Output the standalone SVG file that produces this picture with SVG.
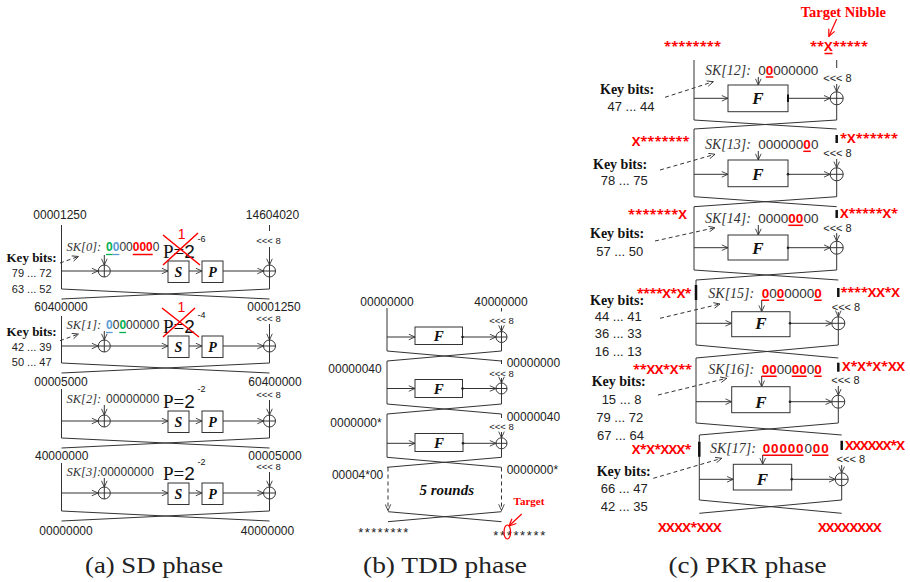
<svg xmlns="http://www.w3.org/2000/svg" width="910" height="582" viewBox="0 0 910 582">
<defs>
<marker id="ah" viewBox="0 0 8 8" refX="7.6" refY="4" markerWidth="7" markerHeight="7" markerUnits="userSpaceOnUse" orient="auto"><path d="M0.5,0.8 L7.6,4 L0.5,7.2" fill="none" stroke="#333" stroke-width="1"/></marker>
<marker id="ahr" viewBox="0 0 8 8" refX="7.6" refY="4" markerWidth="8" markerHeight="8" markerUnits="userSpaceOnUse" orient="auto"><path d="M0.5,0.8 L7.6,4 L0.5,7.2" fill="none" stroke="#f00" stroke-width="1.2"/></marker>
<g id="xa"><circle r="6" fill="#fff" stroke="#333"/><path d="M-6,0H6M0,-6V6" stroke="#333" fill="none"/></g>
<g id="xb"><circle r="5.5" fill="#fff" stroke="#333"/><path d="M-5.5,0H5.5M0,-5.5V5.5" stroke="#333" fill="none"/></g>
<g id="xc"><circle r="6.5" fill="#fff" stroke="#333"/><path d="M-6.5,0H6.5M0,-6.5V6.5" stroke="#333" fill="none"/></g>
</defs>
<style>
.ln{fill:none;stroke:#333;stroke-width:1}
.ar{marker-end:url(#ah)}
.ds{stroke-dasharray:4 3}
.tk{stroke:#111;stroke-width:2.5;fill:none}
.bx{fill:#fff;stroke:#333;stroke-width:1}
.rl{fill:none;stroke:#f00;stroke-width:1.5}
.hx{font-family:"Liberation Sans",Arial,sans-serif;font-size:12px;fill:#222}
.rt{font-family:"Liberation Sans",Arial,sans-serif;font-size:9.5px;fill:#222;text-anchor:middle}
.rc{font-family:"Liberation Sans",Arial,sans-serif;font-size:11px;fill:#222;text-anchor:middle}
.kb{font-family:"Liberation Serif","Times New Roman",serif;font-weight:bold;font-size:13px;fill:#111}
.kbc{font-family:"Liberation Serif","Times New Roman",serif;font-weight:bold;font-size:14px;fill:#111}
.nm{font-family:"Liberation Sans",Arial,sans-serif;font-size:11px;fill:#222;text-anchor:middle}
.nmc{font-family:"Liberation Sans",Arial,sans-serif;font-size:13px;fill:#222;text-anchor:middle}
.sk{font-family:"Liberation Serif","Times New Roman",serif;font-style:italic;font-size:12.5px;fill:#333}
.skc{font-family:"Liberation Serif","Times New Roman",serif;font-style:italic;font-size:14px;fill:#333}
.dg{font-family:"Liberation Sans",Arial,sans-serif;font-size:12px;fill:#333}
.dgc{font-family:"Liberation Sans",Arial,sans-serif;font-size:13.5px;fill:#333}
.r{fill:#f00;font-weight:bold}
.g{fill:#00b050;font-weight:bold}
.b{fill:#5b9bd5;font-weight:bold}
.pe{font-family:"Liberation Serif","Times New Roman",serif;font-size:19px;fill:#111}
.sup{font-family:"Liberation Sans",Arial,sans-serif;font-size:9px;fill:#111}
.one{font-family:"Liberation Sans",Arial,sans-serif;font-size:14px;fill:#f00;text-anchor:middle}
.bi{font-family:"Liberation Serif","Times New Roman",serif;font-weight:bold;font-style:italic;fill:#111;text-anchor:middle}
.red{font-family:"Open Sans","Liberation Sans",sans-serif;font-weight:bold;font-size:13px;fill:#f00}
.ast{font-family:"Liberation Sans",Arial,sans-serif;font-size:13px;fill:#222}
.tg{font-family:"Liberation Serif","Times New Roman",serif;font-weight:bold;fill:#f00;text-anchor:middle}
.cap{font-family:"Liberation Serif","Times New Roman",serif;font-size:24px;fill:#222;text-anchor:middle}
</style>
<rect width="910" height="582" fill="#fff"/>

<!-- ================= connectors ================= -->
<g id="connectors">
<!-- panel a -->
<path class="ln" d="M61.5,225V289M269.5,277V289M269.5,225V231M61.5,289L269.5,299M269.5,289L61.5,299"/>
<path class="ln ar" d="M61.5,271H98"/><path class="ln ar" d="M104.3,255V265"/><path class="ln ar" d="M110.3,271H168"/><path class="ln ar" d="M189,271H202"/><path class="ln ar" d="M223,271H263.5"/><path class="ln ar" d="M269.5,247V265"/>
<path class="ln" d="M61.5,316V363M269.5,352V363M61.5,363L269.5,373M269.5,363L61.5,373"/>
<path class="ln ar" d="M61.5,346H98"/><path class="ln ar" d="M104.3,331V340"/><path class="ln ar" d="M110.3,346H168"/><path class="ln ar" d="M189,346H202"/><path class="ln ar" d="M223,346H263.5"/><path class="ln ar" d="M269.5,324V340"/>
<path class="ln" d="M61.5,389V438M269.5,427V438M61.5,438L269.5,448M269.5,438L61.5,448"/>
<path class="ln ar" d="M61.5,421H98"/><path class="ln ar" d="M104.3,405V415"/><path class="ln ar" d="M110.3,421H168"/><path class="ln ar" d="M189,421H202"/><path class="ln ar" d="M223,421H263.5"/><path class="ln ar" d="M269.5,400V415"/>
<path class="ln" d="M61.5,463V511M269.5,499V511M61.5,511L269.5,521M269.5,511L61.5,521"/>
<path class="ln ar" d="M61.5,493H98"/><path class="ln ar" d="M104.3,478V487"/><path class="ln ar" d="M110.3,493H168"/><path class="ln ar" d="M189,493H202"/><path class="ln ar" d="M223,493H263.5"/><path class="ln ar" d="M269.5,472V487"/>
<path class="ln ds ar" d="M60,263L78.5,256.5"/><path class="ln ds ar" d="M60,340.7L78.5,334"/>
<!-- panel b -->
<path class="ln" d="M387,308V351M501.5,342.5V351M501.5,308V311.5M387,351L501.5,361M501.5,351L387,361"/>
<path class="ln ar" d="M387,337H415"/><path class="ln ar" d="M462.5,337H496"/><path class="ln ar" d="M501.5,325.5V331.5"/>
<path class="ln" d="M387,361V404M501.5,394V404M501.5,360V364M387,404L501.5,414M501.5,404L387,414"/>
<path class="ln ar" d="M387,388.5H415"/><path class="ln ar" d="M462.5,388.5H496"/><path class="ln ar" d="M501.5,378V383"/>
<path class="ln" d="M387,414V457.3M501.5,448.8V457.3M501.5,414V418M387,457.3L501.5,467.3M501.5,457.3L387,467.3"/>
<path class="ln ar" d="M387,443.3H415"/><path class="ln ar" d="M463,443.3H496"/><path class="ln ar" d="M501.5,432V437.8"/>
<path class="ln ds ar" d="M388,467.5V510.5"/><path class="ln ds ar" d="M501.5,467.5V510.5"/>
<path class="ln" d="M388,511.7L501.5,521.7M501.5,511.7L388,521.7"/>
<!-- panel c -->
<path class="ln" d="M694,60V120M836.7,104.8V120M836.7,60V68M694,120L836.7,129M836.7,120L694,129"/>
<path class="ln ar" d="M694,98.3H728"/><path class="ln ar" d="M758.3,77V85"/><path class="ln ar" d="M788,98.3H830.2"/><path class="ln ar" d="M836.7,84V91.8"/>
<path class="ln" d="M694,129V196.7M836.7,180.8V196.7M694,196.7L836.7,206.7M836.7,196.7L694,206.7"/><path class="tk" d="M836.7,135V143"/>
<path class="ln ar" d="M694,174.3H728"/><path class="ln ar" d="M758.3,151V160"/><path class="ln ar" d="M788,174.3H830.2"/><path class="ln ar" d="M836.7,159V167.8"/>
<path class="ln" d="M694,206.7V270M836.7,254.2V270M694,270L838.3,280M836.7,270L696,280"/><path class="tk" d="M836.7,210V218"/>
<path class="ln ar" d="M694,247.7H728"/><path class="ln ar" d="M758.3,225V235"/><path class="ln ar" d="M788,247.7H830.2"/><path class="ln ar" d="M836.7,233V241.2"/>
<path class="ln" d="M696,280V345M838.3,329.8V345M696,345L838.3,358M838.3,345L696,358"/><path class="tk" d="M696,285V300M838.3,288V297"/>
<path class="ln ar" d="M696,323.3H731.7"/><path class="ln ar" d="M761.7,300V311.7"/><path class="ln ar" d="M790,323.3H831.8"/><path class="ln ar" d="M838.3,312V316.8"/>
<path class="ln" d="M696,358V423M838.3,408.2V423M696,423L841.7,435M838.3,423L699.3,435"/><path class="tk" d="M838.3,362.7V371.7"/>
<path class="ln ar" d="M696,401.7H731.7"/><path class="ln ar" d="M761.7,376V386.7"/><path class="ln ar" d="M790,401.7H831.8"/><path class="ln ar" d="M838.3,386V395.2"/>
<path class="ln" d="M699.3,435V500M841.7,485.8V500M699.3,500L841.7,513.3M841.7,500L699.3,513.3"/><path class="tk" d="M699.3,441.7V456.7M841.7,440.7V450"/>
<path class="ln ar" d="M699.3,479.3H733.3"/><path class="ln ar" d="M762.7,455V464.3"/><path class="ln ar" d="M791.7,479.3H835.2"/><path class="ln ar" d="M841.7,465V472.8"/>
<path class="ln ds ar" d="M665,97.3L713.3,81.7"/><path class="ln ds ar" d="M660,170L715,154.3"/><path class="ln ds ar" d="M655,241L715,227.7"/><path class="ln ds ar" d="M660,318.3L720,304"/><path class="ln ds ar" d="M658,395L726.7,378.3"/><path class="ln ds ar" d="M653.3,478.3L721.7,458.3"/>
</g>

<!-- ================= panel (a) ================= -->
<g id="a-round1">
<use href="#xa" x="104.3" y="271"/><use href="#xa" x="269.5" y="271"/>
<rect class="bx" x="168" y="261" width="21" height="21.5"/><text class="bi" x="178.5" y="276.5" font-size="14">S</text>
<rect class="bx" x="202" y="261" width="21" height="21.5"/><text class="bi" x="212.5" y="276.5" font-size="14">P</text>
<text class="sk" x="66.5" y="251">SK[0]:</text>
<text class="dg" x="106" y="251"><tspan class="g">0</tspan><tspan class="b">0</tspan>00<tspan class="r">000</tspan>0</text>
<path d="M106,254.5H112.7" stroke="#00b050" stroke-width="1.3"/><path d="M112.7,254.5H119.3" stroke="#5b9bd5" stroke-width="1.3"/><path class="rl" d="M132.7,254.5H152.7"/>
<text class="pe" x="163" y="258">P=<tspan font-family="Liberation Sans, Arial, sans-serif">2</tspan></text><text class="sup" x="197.5" y="242">-6</text>
<path class="rl" d="M163,235L200,265M198,233L163,265"/><text class="one" x="181.7" y="238.5">1</text>
<text class="rt" x="268.5" y="243.5">&lt;&lt;&lt; 8</text>
<text class="kb" x="6.5" y="261.5">Key bits:</text><text class="nm" x="31.7" y="277">79 ... 72</text><text class="nm" x="31.7" y="292.5">63 ... 52</text>
</g>
<g id="a-round2">
<use href="#xa" x="104.3" y="346"/><use href="#xa" x="269.5" y="346"/>
<rect class="bx" x="168" y="336" width="21" height="21.5"/><text class="bi" x="178.5" y="351.5" font-size="14">S</text>
<rect class="bx" x="202" y="336" width="21" height="21.5"/><text class="bi" x="212.5" y="351.5" font-size="14">P</text>
<text class="sk" x="66.5" y="329">SK[1]:</text>
<text class="dg" x="106" y="329"><tspan class="b">0</tspan>0<tspan class="g">0</tspan>00000</text>
<path d="M106,332.5H112.7" stroke="#5b9bd5" stroke-width="1.3"/><path d="M119.3,332.5H126" stroke="#00b050" stroke-width="1.3"/>
<text class="pe" x="163" y="333">P=<tspan font-family="Liberation Sans, Arial, sans-serif">2</tspan></text><text class="sup" x="197.5" y="318">-4</text>
<path class="rl" d="M162,308L199,337M195,308L163,337"/><text class="one" x="181.5" y="311.7">1</text>
<text class="rt" x="268.5" y="321.5">&lt;&lt;&lt; 8</text>
<text class="kb" x="6.5" y="336">Key bits:</text><text class="nm" x="31.7" y="351">42 ... 39</text><text class="nm" x="31.7" y="366">50 ... 47</text>
</g>
<g id="a-round3">
<use href="#xa" x="104.3" y="421"/><use href="#xa" x="269.5" y="421"/>
<rect class="bx" x="168" y="411" width="21" height="21.5"/><text class="bi" x="178.5" y="426.5" font-size="14">S</text>
<rect class="bx" x="202" y="411" width="21" height="21.5"/><text class="bi" x="212.5" y="426.5" font-size="14">P</text>
<text class="sk" x="66.5" y="402.5">SK[2]:</text><text class="dg" x="106" y="402.5">00000000</text>
<text class="pe" x="163" y="407.5">P=<tspan font-family="Liberation Sans, Arial, sans-serif">2</tspan></text><text class="sup" x="197.5" y="392">-2</text>
<text class="rt" x="268.5" y="398" font-size="9px">&lt;&lt;&lt; 8</text>
</g>
<g id="a-round4">
<use href="#xa" x="104.3" y="493"/><use href="#xa" x="269.5" y="493"/>
<rect class="bx" x="168" y="483" width="21" height="21.5"/><text class="bi" x="178.5" y="498.5" font-size="14">S</text>
<rect class="bx" x="202" y="483" width="21" height="21.5"/><text class="bi" x="212.5" y="498.5" font-size="14">P</text>
<text class="sk" x="66.5" y="476">SK[3]:</text><text class="dg" x="100.5" y="476">00000000</text>
<text class="pe" x="163" y="480">P=<tspan font-family="Liberation Sans, Arial, sans-serif">2</tspan></text><text class="sup" x="197.5" y="465">-2</text>
<text class="rt" x="268.5" y="470">&lt;&lt;&lt; 8</text>
</g>
<g id="a-labels" class="hx" text-anchor="middle">
<text x="60" y="218.5">00001250</text><text x="272.5" y="218.5">14604020</text>
<text x="61" y="311">60400000</text><text x="274" y="311">00001250</text>
<text x="61" y="385.5">00005000</text><text x="275" y="385.5">60400000</text>
<text x="61.7" y="459.5">40000000</text><text x="275" y="459.5">00005000</text>
<text x="66" y="534.5">00000000</text><text x="267.5" y="534.5">40000000</text>
</g>
<text id="cap-a" class="cap" x="154" y="572.5" textLength="138" lengthAdjust="spacingAndGlyphs">(a) SD phase</text>

<!-- ================= panel (b) ================= -->
<g id="b-round1">
<rect class="bx" x="415" y="327" width="47.5" height="17.5"/><text class="bi" x="438.7" y="341" font-size="15">F</text>
<circle cx="462.5" cy="337" r="1.3" fill="#222"/><use href="#xb" x="501.5" y="337"/>
<text class="rt" x="501.5" y="324">&lt;&lt;&lt; 8</text>
</g>
<g id="b-round2">
<rect class="bx" x="415" y="379.5" width="47.5" height="18"/><text class="bi" x="438.7" y="393.5" font-size="15">F</text>
<circle cx="462.5" cy="388.5" r="1.3" fill="#222"/><use href="#xb" x="501.5" y="388.5"/>
<text class="rt" x="501.5" y="376.5">&lt;&lt;&lt; 8</text>
</g>
<g id="b-round3">
<rect class="bx" x="415" y="433.5" width="48" height="18"/><text class="bi" x="439" y="448" font-size="15">F</text>
<circle cx="463" cy="443.3" r="1.3" fill="#222"/><use href="#xb" x="501.5" y="443.3"/>
<text class="rt" x="501.5" y="430">&lt;&lt;&lt; 8</text>
</g>
<g id="b-5rounds"><text class="bi" x="446.7" y="495" font-size="15">5 rounds</text></g>
<g id="b-labels" class="hx">
<text x="387" y="306" text-anchor="middle">00000000</text><text x="501" y="306" text-anchor="middle">40000000</text>
<text x="381.7" y="373" text-anchor="end">00000040</text><text x="506.7" y="367">00000000</text>
<text x="381.7" y="427" text-anchor="end">0000000*</text><text x="506.7" y="421">00000040</text>
<text x="383.3" y="479.3" text-anchor="end">00004*00</text><text x="506.7" y="474.3">0000000*</text>
</g>
<g id="b-output">
<text class="ast" x="358.3" y="537" textLength="50" lengthAdjust="spacing">********</text>
<text class="ast" x="493.3" y="539.5" textLength="52" lengthAdjust="spacing">********</text>
<ellipse cx="507.3" cy="532" rx="3.3" ry="7" fill="none" stroke="#f00" stroke-width="1.2"/>
<text class="tg" x="529" y="505" font-size="11">Target</text>
<path d="M521.7,514L509,526" fill="none" stroke="#f00" stroke-width="1.2" marker-end="url(#ahr)"/>
</g>
<text id="cap-b" class="cap" x="445" y="572.5" textLength="164" lengthAdjust="spacingAndGlyphs">(b) TDD phase</text>

<!-- ================= panel (c) ================= -->
<g id="c-target">
<text class="tg" x="843.3" y="16.5" font-size="14.5">Target Nibble</text>
<path d="M836.7,19L828.8,36.5" fill="none" stroke="#f00" stroke-width="1.2" marker-end="url(#ahr)"/>
</g>
<g id="c-round12">
<rect class="bx" x="728" y="85" width="60" height="26.7"/><text class="bi" x="758" y="104.3" font-size="17">F</text>
<path d="M788,94.5V102" stroke="#111" stroke-width="2"/><use href="#xc" x="836.7" y="98.3"/>
<text class="skc" x="705" y="74.5">SK[12]:</text><text class="dgc" x="758.3" y="74.5">0<tspan class="r">0</tspan>000000</text><path class="rl" d="M765.8,77H773.3"/>
<text class="rc" x="837.5" y="82.2">&lt;&lt;&lt; 8</text>
<text class="kbc" x="600" y="93.8">Key bits:</text><text class="nmc" x="631" y="111.4">47 ... 44</text>
<text class="red" x="664" y="51" textLength="57" lengthAdjust="spacing">********</text>
<text class="red" x="810" y="51" textLength="58" lengthAdjust="spacing">**X*****</text><path class="rl" d="M824.5,53.5H832.5"/>
</g>
<g id="c-round13">
<rect class="bx" x="728" y="160" width="60" height="26.7"/><text class="bi" x="758" y="180.3" font-size="17">F</text>
<circle cx="788" cy="174.3" r="1.3" fill="#222"/><use href="#xc" x="836.7" y="174.3"/>
<text class="skc" x="705" y="148.8">SK[13]:</text><text class="dgc" x="758.3" y="148.8">000000<tspan class="r">0</tspan>0</text><path class="rl" d="M803.3,151.3H810.8"/>
<text class="rc" x="837.5" y="157.2">&lt;&lt;&lt; 8</text>
<text class="kbc" x="593" y="168.8">Key bits:</text><text class="nmc" x="624.2" y="184.7">78 ... 75</text>
<text class="red" x="631.7" y="145.5" textLength="58" lengthAdjust="spacing">X*******</text>
<text class="red" x="840" y="142.8" textLength="58" lengthAdjust="spacing">*X******</text>
</g>
<g id="c-round14">
<rect class="bx" x="728" y="235" width="60" height="25"/><text class="bi" x="758" y="253.7" font-size="17">F</text>
<circle cx="788" cy="247.7" r="1.3" fill="#222"/><use href="#xc" x="836.7" y="247.7"/>
<text class="skc" x="705" y="222.8">SK[14]:</text><text class="dgc" x="758.3" y="222.8">0000<tspan class="r">00</tspan>00</text><path class="rl" d="M788.3,225.3H803.3"/>
<text class="rc" x="837.5" y="232">&lt;&lt;&lt; 8</text>
<text class="kbc" x="590" y="237.8">Key bits:</text><text class="nmc" x="619.8" y="255.7">57 ... 50</text>
<text class="red" x="628" y="218.8" textLength="59" lengthAdjust="spacing">*******X</text>
<text class="red" x="840" y="217.8" textLength="58" lengthAdjust="spacing">X*****X*</text>
</g>
<g id="c-round15">
<rect class="bx" x="731.7" y="311.7" width="58.3" height="25"/><text class="bi" x="760.8" y="329.3" font-size="17">F</text>
<circle cx="790" cy="323.3" r="1.3" fill="#222"/><use href="#xc" x="838.3" y="323.3"/>
<text class="skc" x="708.3" y="297.8">SK[15]:</text><text class="dgc" x="761.7" y="297.8"><tspan class="r">0</tspan>0<tspan class="r">0</tspan>0000<tspan class="r">0</tspan></text>
<path class="rl" d="M761.7,300.3H769.2M776.7,300.3H784.2M814.2,300.3H821.7"/>
<text class="rc" x="846" y="310.8" font-size="10.5px">&lt;&lt;&lt; 8</text>
<text class="kbc" x="590" y="304.5">Key bits:</text><text class="nmc" x="618.3" y="321.4">44 ... 41</text><text class="nmc" x="618.3" y="338">36 ... 33</text><text class="nmc" x="618.3" y="356.4">16 ... 13</text>
<text class="red" x="636.7" y="297.8" textLength="55" lengthAdjust="spacing">****X*X*</text>
<text class="red" x="840.5" y="296.5" textLength="59.5" lengthAdjust="spacing">****XX*X</text>
</g>
<g id="c-round16">
<rect class="bx" x="731.7" y="386.7" width="58.3" height="26"/><text class="bi" x="760.8" y="407.7" font-size="17">F</text>
<circle cx="790" cy="401.7" r="1.3" fill="#222"/><use href="#xc" x="838.3" y="401.7"/>
<text class="skc" x="708.3" y="373.8">SK[16]:</text><text class="dgc" x="761.7" y="373.8"><tspan class="r">00</tspan>00<tspan class="r">00</tspan>0<tspan class="r">0</tspan></text>
<path class="rl" d="M761.7,376.3H776.7M791.7,376.3H806.7M814.2,376.3H821.7"/>
<text class="rc" x="845.5" y="384">&lt;&lt;&lt; 8</text>
<text class="kbc" x="591.7" y="386.2">Key bits:</text><text class="nmc" x="621.5" y="404">15 ... 8</text><text class="nmc" x="619.8" y="422">79 ... 72</text><text class="nmc" x="620.5" y="439.7">67 ... 64</text>
<text class="red" x="633" y="373.8" textLength="59" lengthAdjust="spacing">**XX*X**</text>
<text class="red" x="842" y="370.5" textLength="63" lengthAdjust="spacing">X*X*X*XX</text>
</g>
<g id="c-round17">
<rect class="bx" x="733.3" y="464.3" width="58.4" height="25.7"/><text class="bi" x="762.5" y="485.3" font-size="17">F</text>
<circle cx="791.7" cy="479.3" r="1.3" fill="#222"/><use href="#xc" x="841.7" y="479.3"/>
<text class="skc" x="710" y="452.8">SK[17]:</text><text class="dgc" x="762.7" y="452.8" textLength="66" lengthAdjust="spacing"><tspan class="r">00000</tspan>0<tspan class="r">00</tspan></text>
<path class="rl" d="M762.7,455.3H803.5M812,455.3H828.5"/>
<text class="rc" x="850.8" y="463.3">&lt;&lt;&lt; 8</text>
<text class="kbc" x="596.7" y="475.5">Key bits:</text><text class="nmc" x="624.2" y="493">66 ... 47</text><text class="nmc" x="624.2" y="511.4">42 ... 35</text>
<text class="red" x="631.7" y="453.8" textLength="60" lengthAdjust="spacing">X*X*XXX*</text>
<text class="red" x="845" y="449.5" textLength="60" lengthAdjust="spacing">XXXXXX*X</text>
</g>
<g id="c-output">
<text class="red" x="658" y="531.8" textLength="63.7" lengthAdjust="spacing">XXXX*XXX</text>
<text class="red" x="818" y="531.8" textLength="63.7" lengthAdjust="spacing">XXXXXXXX</text>
</g>
<text id="cap-c" class="cap" x="747.5" y="572.5" textLength="158" lengthAdjust="spacingAndGlyphs">(c) PKR phase</text>
</svg>
